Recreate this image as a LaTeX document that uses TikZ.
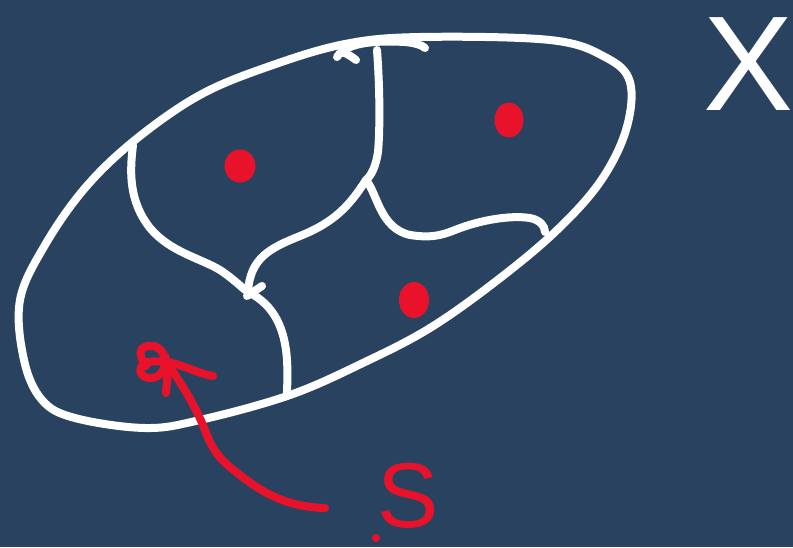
\documentclass[tikz,border=0pt]{standalone}
\usepackage{fontspec}
\setsansfont{Liberation Sans}
\usetikzlibrary{shapes.geometric}
\definecolor{bg}{RGB}{40,66,96}
\definecolor{pen}{RGB}{232,19,42}
\tikzset{
  chalk/.style={draw=white,line width=8pt,line cap=round,line join=round},
  ink/.style={draw=pen,line width=8pt,line cap=round,line join=round},
  blob/.style={fill=pen,draw=pen,line width=3pt,line join=round},
}
\begin{document}
\begin{tikzpicture}[x=1pt,y=-1pt]
\fill[bg] (0,0) rectangle (793,547);
\useasboundingbox (0,0) rectangle (793,547);
% named junctions
\coordinate (top) at (377,50);
\coordinate (j1) at (366,180);
\coordinate (j2) at (248,292);
\coordinate (lefttop) at (133,145);
\coordinate (rightend) at (545,232);
\coordinate (botend) at (287,395);
% outer boundary
\draw[chalk] plot[smooth cycle,tension=0.6] coordinates {
 (345,44) (420,37) (550,40) (605,57) (630,82) (626,130) (600,182)
 (555,232) (495,282) (430,328) (365,362) (290,395) (200,420) (145,428)
 (75,418) (42,400) (24,360) (20,300) (45,245) (85,188) (135,140)
 (200,95) (270,66)};
% top hook strokes
\draw[chalk] (337,57) .. controls (345,44) and (370,40) .. (405,42) .. controls (415,43) and (422,45) .. (425,48);
\draw[chalk] (342,52) .. controls (348,54) and (352,57) .. (356,60);
% internal lines
\draw[chalk] (top) .. controls (380,90) and (380,130) .. (378,152) .. controls (376,165) and (372,175) .. (j1);
\draw[chalk] (j1) .. controls (350,205) and (335,222) .. (300,236) .. controls (270,248) and (250,258) .. (j2);
\draw[chalk] (j1) .. controls (378,195) and (380,228) .. (410,235) .. controls (430,238) and (440,236) .. (455,230) .. controls (480,220) and (510,215) .. (530,218) .. controls (540,220) and (545,226) .. (rightend);
\draw[chalk] (lefttop) .. controls (130,170) and (128,200) .. (150,228) .. controls (170,252) and (200,258) .. (220,270) .. controls (235,280) and (242,288) .. (j2);
\draw[chalk] (j2) .. controls (275,305) and (285,330) .. (287,360) .. controls (288,378) and (287,385) .. (botend);
\draw[chalk] (247,296) -- (262,286);
% red dots
\node[blob,ellipse,minimum width=28pt,minimum height=30pt,inner sep=0pt] (d1) at (240,166) {};
\node[blob,ellipse,minimum width=26pt,minimum height=32pt,inner sep=0pt] (d2) at (509,120) {};
\node[blob,ellipse,minimum width=27pt,minimum height=33pt,inner sep=0pt] (d3) at (414,300) {};
% point in S with arrow
\coordinate (tail) at (325,508);
\draw[ink] (146,366) .. controls (138,355) and (138,345) .. (152,346) .. controls (168,346) and (170,376) .. (152,378) .. controls (140,379) and (136,368) .. (146,362);
\draw[ink] (148,362) .. controls (175,358) and (190,372) .. (213,376);
\draw[ink] (165,356) .. controls (170,370) and (166,385) .. (166,393);
\draw[ink] (tail) .. controls (290,507) and (265,495) .. (240,475) .. controls (220,460) and (212,450) .. (205,430) .. controls (195,405) and (182,385) .. (172,370);
% labels
\node[text=pen,font=\sffamily\fontsize{92}{92}\selectfont,inner sep=0pt] (S) at (408,496) {S};
\fill[pen] (376,538) circle (4pt);
\node[text=white,font=\sffamily\fontsize{135}{135}\selectfont,inner sep=0pt] (X) at (749,64) {X};
\end{tikzpicture}
\end{document}
